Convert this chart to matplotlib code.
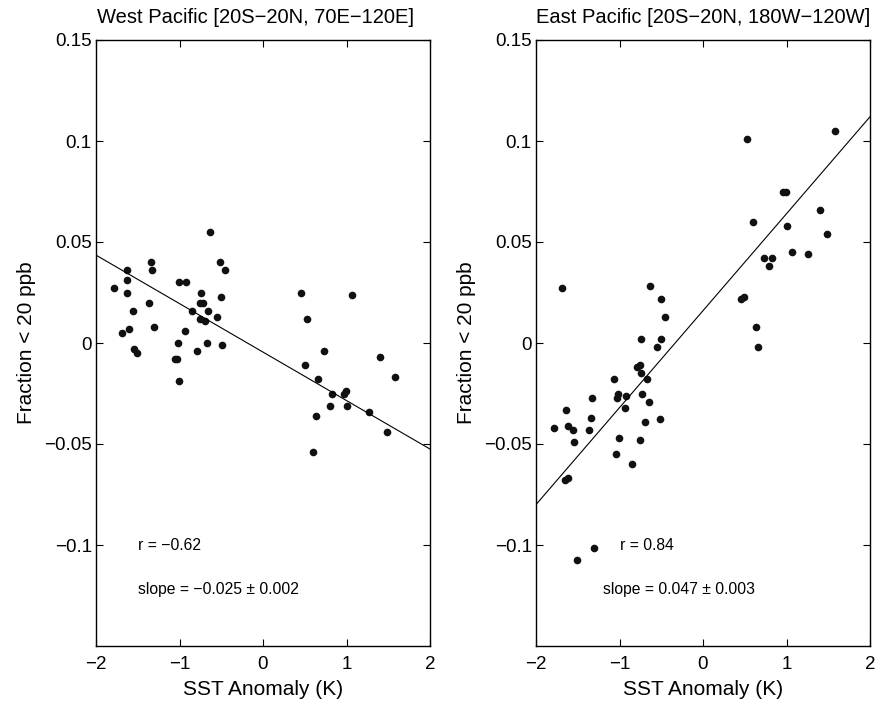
#!/usr/bin/env python3
"""
SST anomaly vs fraction of low-ozone (<20 ppb) observations, West and East Pacific.
"""

import matplotlib
matplotlib.use("Agg")
import matplotlib.pyplot as plt
import numpy as np

plt.rcParams["font.family"] = ["Liberation Sans", "DejaVu Sans"]

# West Pacific [20S-20N, 70E-120E]
west_sst = [-1.78, -1.63, -1.63, -1.625, -1.56, -1.685, -1.61, -1.55, -1.51,
            -1.34, -1.33, -1.37, -1.30, -1.01, -0.92, -1.02, -0.93, -1.05,
            -1.03, -1.01, -0.85, -0.74, -0.75, -0.72, -0.655, -0.75, -0.70,
            -0.79, -0.67, -0.64, -0.55, -0.515, -0.46, -0.50, -0.495,
            0.455, 1.07, 0.53, 0.73, 0.50, 1.40, 1.585, 0.66, 0.83, 0.97,
            0.99, 0.80, 1.01, 0.635, 1.27, 1.48, 0.60]
west_frac = [0.027, 0.036, 0.031, 0.025, 0.016, 0.005, 0.007, -0.003, -0.005,
             0.040, 0.036, 0.020, 0.008, 0.030, 0.030, 0.000, 0.006, -0.008,
             -0.008, -0.019, 0.016, 0.025, 0.020, 0.020, 0.016, 0.012, 0.011,
             -0.004, 0.000, 0.055, 0.013, 0.040, 0.036, 0.023, -0.001,
             0.025, 0.024, 0.012, -0.004, -0.011, -0.007, -0.017, -0.018,
             -0.025, -0.025, -0.024, -0.031, -0.031, -0.036, -0.034, -0.044,
             -0.054]
west_fit = (-0.024, -0.0045)  # slope, intercept of the drawn line

# East Pacific [20S-20N, 180W-120W]
east_sst = [-1.69, -0.64, -0.50, -0.46, -0.74, -0.50, -0.55, -0.79, -0.75,
            -0.74, -0.67, -1.07, -1.02, -1.03, -0.92, -0.73, -0.65, -0.93,
            -1.33, -1.64, -1.34, -0.515, -1.78, -1.62, -1.56, -1.37, -0.70,
            -1.55, -1.01, -0.76, -1.04, -0.85, -1.65, -1.62, -1.30, -1.51,
            1.58, 0.53, 0.96, 0.99, 1.40, 0.595, 1.01, 1.48, 1.07, 1.26,
            0.73, 0.83, 0.79, 0.45, 0.49, 0.63, 0.655]
east_frac = [0.027, 0.028, 0.022, 0.013, 0.002, 0.002, -0.002, -0.012, -0.011,
             -0.015, -0.018, -0.018, -0.025, -0.027, -0.026, -0.025, -0.029,
             -0.032, -0.027, -0.033, -0.037, -0.0375, -0.042, -0.041, -0.043,
             -0.043, -0.039, -0.049, -0.047, -0.048, -0.055, -0.060, -0.068,
             -0.067, -0.1015, -0.1075,
             0.105, 0.101, 0.075, 0.075, 0.066, 0.060, 0.058, 0.054, 0.045,
             0.044, 0.042, 0.042, 0.038, 0.022, 0.023, 0.008, -0.002]
east_fit = (0.048, 0.016)

titles = ["West Pacific [20S\u221220N, 70E\u2212120E]",
          "East Pacific [20S\u221220N, 180W\u2212120W]"]
r_labels = ["r = \u22120.62", "r = 0.84"]
slope_labels = ["slope = \u22120.025 \u00b1 0.002", "slope = 0.047 \u00b1 0.003"]
x_ticks = [-2, -1, 0, 1, 2]
y_ticks = [-0.1, -0.05, 0, 0.05, 0.1, 0.15]
y_ticklabels = ["\u22120.1", "\u22120.05", "0", "0.05", "0.1", "0.15"]


def fmt_x(v):
    return f"{v:d}".replace("-", "\u2212")


fig = plt.figure(figsize=(8.81, 7.05), dpi=100)
ax_left = fig.add_axes([96 / 881, 59 / 705, 334 / 881, 606 / 705])
ax_right = fig.add_axes([536 / 881, 59 / 705, 334 / 881, 606 / 705])

panels = [
    (ax_left, west_sst, west_frac, west_fit, (-1.5, -1.5), 0.477),
    (ax_right, east_sst, east_frac, east_fit, (-1.0, -1.2), 0.5),
]

for i, (ax, xs, ys, fit, text_x, title_x) in enumerate(panels):
    ax.plot(xs, ys, "o", color="#111111", markersize=5.5, markeredgewidth=0)
    xline = np.array([-2.0, 2.0])
    ax.plot(xline, fit[0] * xline + fit[1], color="black", linewidth=0.8)

    ax.set_xlim(-2, 2)
    ax.set_ylim(-0.15, 0.15)
    ax.set_xticks(x_ticks)
    ax.set_xticklabels([fmt_x(v) for v in x_ticks])
    ax.set_yticks(y_ticks)
    ax.set_yticklabels(y_ticklabels)
    ax.tick_params(direction="in", top=True, right=True, length=5,
                   width=0.8, labelsize=13.5, pad=3)
    ax.tick_params(axis="x", pad=7)
    for spine in ax.spines.values():
        spine.set_linewidth(1.0)

    ax.set_title(titles[i], fontsize=14.5, pad=12, x=title_x)
    ax.set_xlabel("SST Anomaly (K)", fontsize=15, labelpad=5)
    ax.set_ylabel("Fraction < 20 ppb", fontsize=15, labelpad=6)

    ax.text(text_x[0], -0.1, r_labels[i], fontsize=11.3, va="center", ha="left")
    ax.text(text_x[1], -0.122, slope_labels[i], fontsize=11.3, va="center", ha="left")

plt.savefig("out.png", dpi=100, facecolor="white")
plt.close()
